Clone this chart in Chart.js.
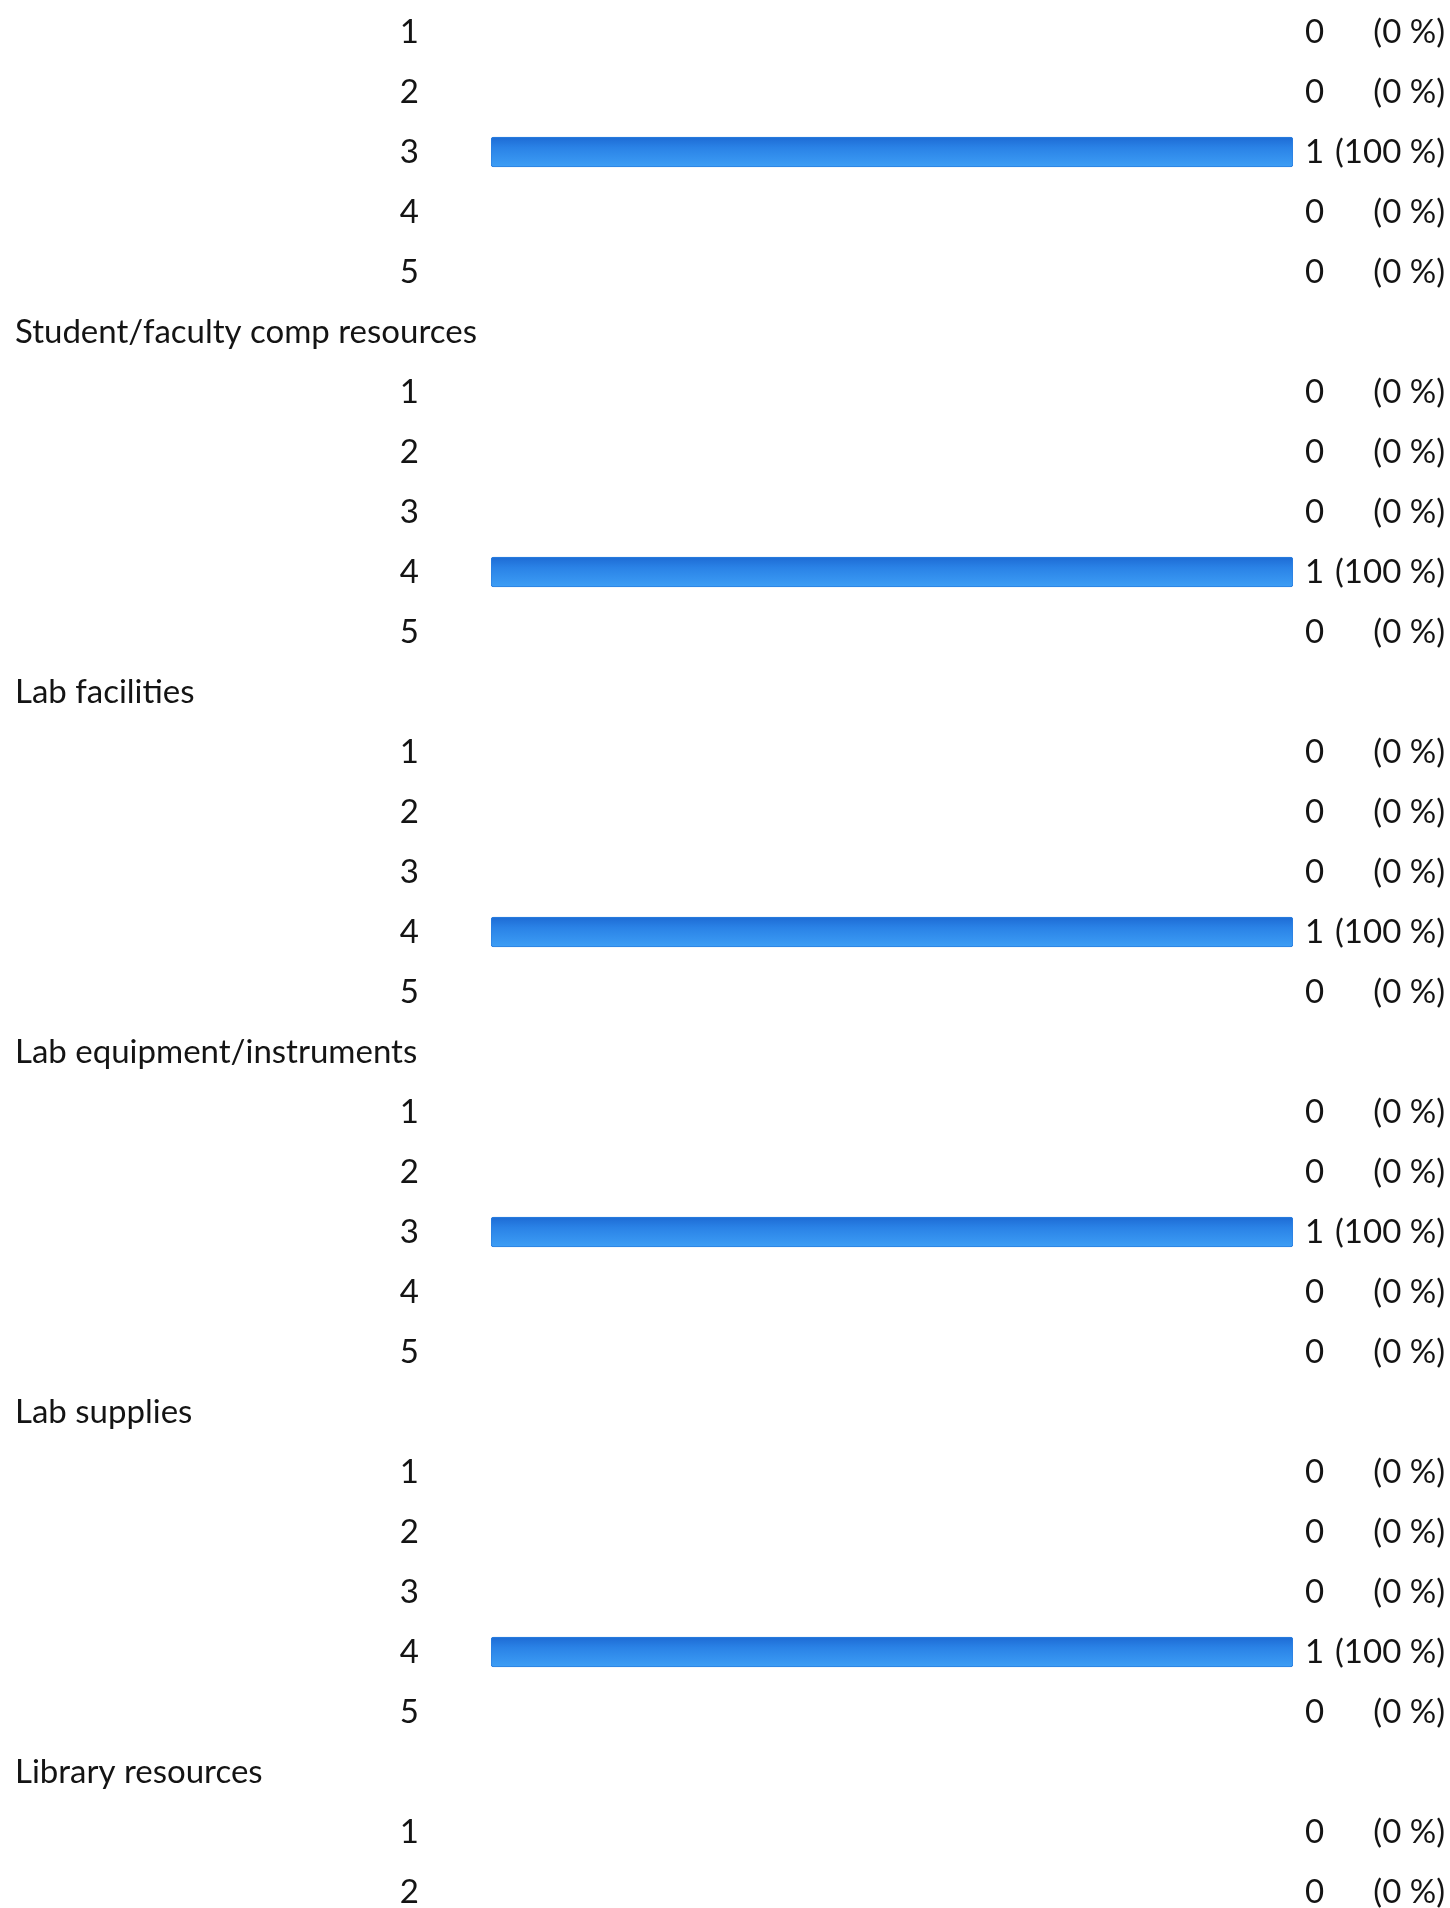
<!DOCTYPE html>
<html>
<head>
<meta charset="utf-8">
<script src="https://cdn.jsdelivr.net/npm/chart.js@4"></script>
<style>
    html, body { margin: 0; padding: 0; background: #fff; }
    #wrap { width: 1450px; height: 1908px; }
</style>
</head>
<body>
<div id="wrap"><canvas id="ratingChart"></canvas></div>
<script>
// groupes visibles (le premier titre est coupé en haut de l'image)
const headings = ["", "Student/faculty comp resources", "Lab facilities", "Lab equipment/instruments", "Lab supplies", "Library resources"];
const ratings = ["1", "2", "3", "4", "5"];
const counts = [
    [0, 0, 1, 0, 0],
    [0, 0, 0, 1, 0],
    [0, 0, 0, 1, 0],
    [0, 0, 1, 0, 0],
    [0, 0, 0, 1, 0],
    [0, 0]
];
const percents = [
    [0, 0, 100, 0, 0],
    [0, 0, 0, 100, 0],
    [0, 0, 0, 100, 0],
    [0, 0, 100, 0, 0],
    [0, 0, 0, 100, 0],
    [0, 0]
];

// une ligne par titre + une ligne par note
let headingLabels = [];
let ratingLabels = [];
let countLabels = [];
let percentLabels = [];
let barValues = [];
headings.forEach((h, g) => {
    if (g > 0) {
        headingLabels.push(h);
        ratingLabels.push("");
        countLabels.push("");
        percentLabels.push("");
        barValues.push(null);
    }
    counts[g].forEach((c, i) => {
        headingLabels.push("");
        ratingLabels.push(ratings[i]);
        countLabels.push(String(c));
        percentLabels.push("(" + percents[g][i] + " %)");
        barValues.push(percents[g][i] > 0 ? percents[g][i] : null);
    });
});

const textFont = { family: "Lato", size: 33 };
const textColor = "#141414";

// largeur fixe, sans marge verticale ajoutée par le padding des ticks
function fixedBox(w) {
    return (scale) => {
        scale.width = w;
        scale.paddingTop = 0;
        scale.paddingBottom = 0;
    };
}

// dégradé vertical de la barre (plus foncé en haut)
function barColor(context) {
    const chart = context.chart;
    const yScale = chart.scales.y;
    if (!yScale || context.dataIndex === undefined) return "#2f88e8";
    const y = yScale.getPixelForValue(context.dataIndex);
    if (!Number.isFinite(y)) return "#2f88e8";
    const g = chart.ctx.createLinearGradient(0, y - 15, 0, y + 15);
    g.addColorStop(0, "#1d6bd4");
    g.addColorStop(0.35, "#2a82e6");
    g.addColorStop(1, "#3d9ef5");
    return g;
}

const ctx = document.getElementById("ratingChart").getContext("2d");
new Chart(ctx, {
    type: "bar",
    data: {
        labels: ratingLabels,
        datasets: [
            {
                data: barValues,
                backgroundColor: barColor,
                borderColor: "#2a7fe0",
                borderWidth: 1,
                borderSkipped: false,
                borderRadius: 3,
                barThickness: 30,
                yAxisID: "y",
            },
        ],
    },
    options: {
        indexAxis: "y",
        responsive: true,
        maintainAspectRatio: false,
        animation: false,
        layout: { padding: { left: 0, right: 5, top: 32, bottom: 16 } },
        plugins: { legend: { display: false }, tooltip: { enabled: false } },
        scales: {
            x: { display: false, min: 0, max: 100 },
            y: {
                type: "category",
                position: "left",
                offset: false,
                weight: 0,
                labels: ratingLabels,
                grid: { display: false, drawTicks: false },
                border: { display: false },
                ticks: { font: textFont, color: textColor, padding: 72, crossAlign: "near", autoSkip: false },
                afterFit: fixedBox(476),
            },
            yHead: {
                type: "category",
                position: "left",
                offset: false,
                weight: 1,
                labels: headingLabels,
                grid: { display: false, drawTicks: false },
                border: { display: false },
                ticks: { font: textFont, color: textColor, padding: 0, mirror: true, crossAlign: "near", autoSkip: false },
                afterFit: fixedBox(15),
            },
            yCount: {
                type: "category",
                position: "right",
                offset: false,
                weight: 0,
                labels: countLabels,
                grid: { display: false, drawTicks: false },
                border: { display: false },
                ticks: { font: textFont, color: textColor, padding: 12, crossAlign: "near", autoSkip: false },
                afterFit: fixedBox(34),
            },
            yPct: {
                type: "category",
                position: "right",
                offset: false,
                weight: 1,
                labels: percentLabels,
                grid: { display: false, drawTicks: false },
                border: { display: false },
                ticks: { font: textFont, color: textColor, padding: 0, crossAlign: "far", autoSkip: false },
                afterFit: fixedBox(118),
            },
        },
    },
});
</script>
</body>
</html>
